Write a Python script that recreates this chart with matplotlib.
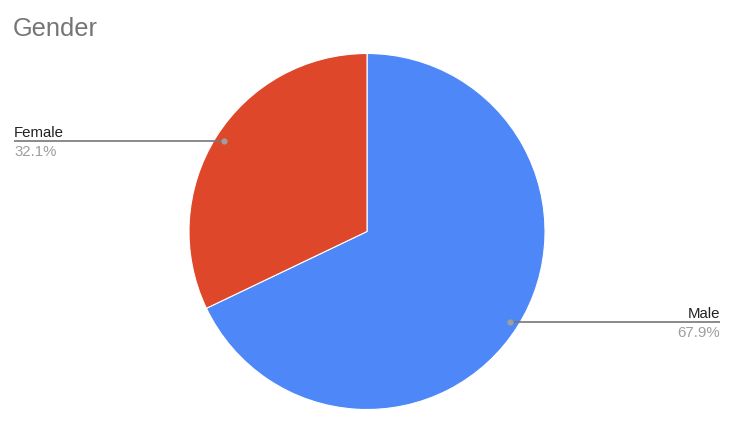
import matplotlib
matplotlib.use("Agg")
import matplotlib.pyplot as plt

labels = ["Male", "Female"]
values = [67.9, 32.1]
colors = ["#4e87f7", "#de4729"]
title = "Gender"

W, H = 732, 431
fig = plt.figure(figsize=(W / 100, H / 100), dpi=100)
ax = fig.add_axes([0, 0, 1, 1])

cx, cy, r = 367, H - 232.5, 178
ax.pie(values, colors=colors, startangle=90, counterclock=False,
       center=(cx, cy), radius=r, frame=True,
       wedgeprops=dict(linewidth=0.8, edgecolor="white"))
ax.set_xlim(0, W)
ax.set_ylim(0, H)
ax.set_aspect("equal")
ax.axis("off")

font = ["Liberation Sans", "DejaVu Sans"]
fig.text(13 / W, 1 - 36 / H, title, fontsize=18.3, color="#757575",
         family=font, ha="left", va="baseline")

lc = "#777777"
fs = 10.8
# Female label
ax.plot([14, 224], [H - 142, H - 142], color=lc, lw=1.2, solid_capstyle="butt")
ax.plot([224], [H - 142], "o", ms=4.5, color="#9e9e9e", mec="none")
ax.text(14, H - 137, labels[1], fontsize=fs, color="#222222", family=font,
        ha="left", va="baseline")
ax.text(14, H - 156, f"{values[1]}%", fontsize=fs, color="#9e9e9e", family=font,
        ha="left", va="baseline")
# Male label
ax.plot([510, 720], [H - 323, H - 323], color=lc, lw=1.2, solid_capstyle="butt")
ax.plot([510], [H - 323], "o", ms=4.5, color="#9e9e9e", mec="none")
ax.text(720, H - 318, labels[0], fontsize=fs, color="#222222", family=font,
        ha="right", va="baseline")
ax.text(720, H - 337, f"{values[0]}%", fontsize=fs, color="#9e9e9e", family=font,
        ha="right", va="baseline")

fig.savefig("out.png", dpi=100, facecolor="white")
